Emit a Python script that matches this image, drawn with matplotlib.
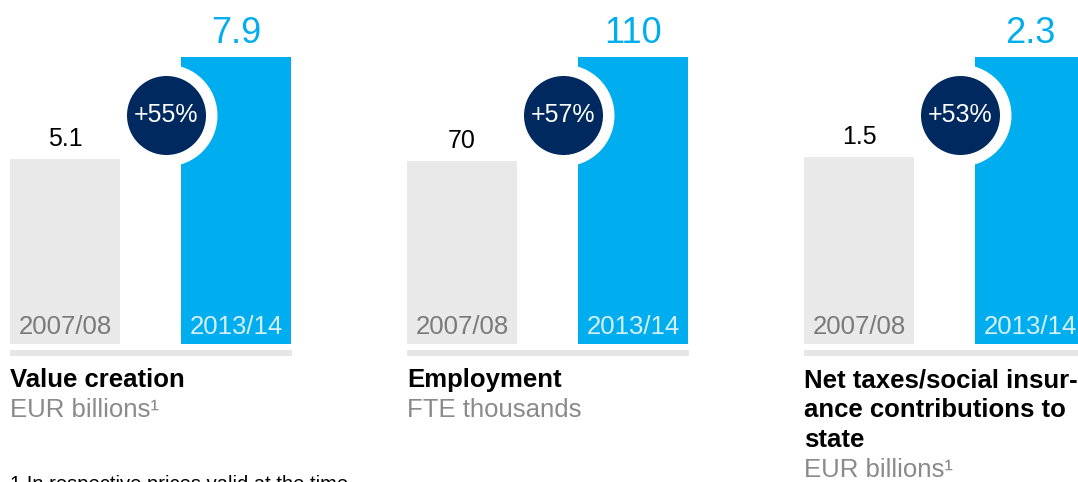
import matplotlib
matplotlib.use("Agg")
import matplotlib.pyplot as plt

plt.rcParams["font.family"] = ["Liberation Sans", "DejaVu Sans"]

# two fiscal years per panel
YEARS = ["2007/08", "2013/14"]
VALUES_OLD = [5.1, 70, 1.5]
VALUES_NEW = [7.9, 110, 2.3]
VALUE_TEXT_OLD = ["5.1", "70", "1.5"]
VALUE_TEXT_NEW = ["7.9", "110", "2.3"]
TITLES = [["Value creation"],
          ["Employment"],
          ["Net taxes/social insur-", "ance contributions to", "state"]]
UNITS = ["EUR billions\u00b9", "FTE thousands", "EUR billions\u00b9"]
FOOTNOTE = "1 In respective prices valid at the time"

BLUE = "#00AEEF"
NAVY = "#00295F"
GREY_BAR = "#E8E9E8"
GREY_LINE = "#E6E6E6"
GREY_TEXT = "#8A8A8A"

W, H = 1078, 482
fig = plt.figure(figsize=(W / 100, H / 100), dpi=100)

PX_BOTTOM, PX_TOP = 344, 57
PANEL_LEFT = [10, 407, 804]
PANEL_W = 282
STEP = 171
BAR_W = 110 / STEP
ax_h = PX_BOTTOM - PX_TOP

def px(v):
    return v * 0.72  # pixels -> points at 100 dpi

for i in range(3):
    left = PANEL_LEFT[i]
    ax = fig.add_axes([left / W, (H - PX_BOTTOM) / H, PANEL_W / W, ax_h / H])
    x0 = -0.5 * BAR_W
    ax.set_xlim(x0, x0 + PANEL_W / STEP)
    ax.set_ylim(0, VALUES_NEW[i])
    ax.axis("off")

    ax.bar([0], [VALUES_OLD[i]], width=BAR_W, color=GREY_BAR, zorder=1)
    ax.bar([1], [VALUES_NEW[i]], width=BAR_W, color=BLUE, zorder=1)

    # baseline strip under the bars
    ax.plot([0, 1], [-0.031, -0.031], transform=ax.transAxes, color=GREY_LINE,
            lw=px(6), solid_capstyle="butt", clip_on=False)

    # value labels above bars
    ax.annotate(VALUE_TEXT_OLD[i], xy=(0, VALUES_OLD[i]), xytext=(0, px(13)),
                textcoords="offset points", ha="center", va="baseline",
                fontsize=18, color="black", annotation_clip=False)
    ax.annotate(VALUE_TEXT_NEW[i], xy=(1, VALUES_NEW[i]), xytext=(0, px(14)),
                textcoords="offset points", ha="center", va="baseline",
                fontsize=26, color=BLUE, annotation_clip=False)

    # year labels inside bars
    yb = (PX_BOTTOM - 334) / ax_h
    ax.text(0, yb, YEARS[0], transform=ax.get_xaxis_transform(), ha="center",
            va="baseline", fontsize=18.5, color="#7A7A7A")
    ax.text(1, yb, YEARS[1], transform=ax.get_xaxis_transform(), ha="center",
            va="baseline", fontsize=18.5, color="#D6EFFB")

    # growth badge
    growth = round((VALUES_NEW[i] / VALUES_OLD[i] - 1) * 100)
    cx = (166 - 65) / STEP
    cy = (PX_BOTTOM - 115) / ax_h
    tr = ax.get_xaxis_transform()
    ax.scatter([cx], [cy], s=px(102) ** 2, color="white", transform=tr,
               zorder=3, clip_on=False, linewidths=0)
    ax.scatter([cx], [cy], s=px(79) ** 2, color=NAVY, transform=tr,
               zorder=4, clip_on=False, linewidths=0)
    ax.text(cx, cy, "+%d%%" % growth, transform=tr, ha="center", va="center",
            fontsize=18, color="white", zorder=5)

    # titles and units
    base = 387
    for line in TITLES[i]:
        ax.text(0, (PX_BOTTOM - base) / ax_h, line, transform=ax.transAxes,
                ha="left", va="baseline", fontsize=18.5, fontweight="bold",
                color="black")
        base += 30
    ax.text(0, (PX_BOTTOM - base) / ax_h, UNITS[i], transform=ax.transAxes,
            ha="left", va="baseline", fontsize=18.5, color=GREY_TEXT)

fig.text(10 / W, (H - 490) / H, FOOTNOTE, ha="left", va="baseline",
         fontsize=14.5, color="black")

fig.savefig("out.png", dpi=100)
